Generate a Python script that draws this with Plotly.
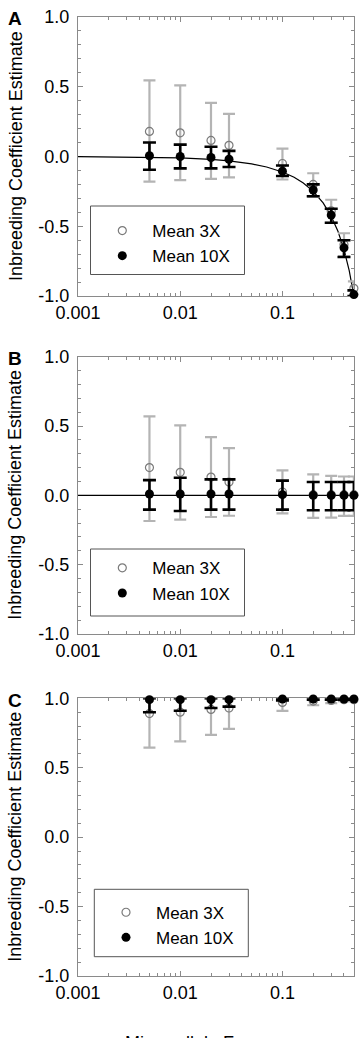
import math
import plotly.graph_objects as go
from plotly.subplots import make_subplots

# ---------------- data ----------------
maf = [0.005, 0.01, 0.02, 0.03, 0.1, 0.2, 0.3, 0.4, 0.5]

# Panel A
a3_mean = [0.18, 0.17, 0.115, 0.08, -0.05, -0.20, -0.39, -0.63, -0.945]
a3_hi = [0.545, 0.51, 0.385, 0.305, 0.057, -0.12, -0.31, -0.55, -0.895]
a3_lo = [-0.18, -0.17, -0.16, -0.15, -0.165, -0.29, -0.475, -0.715, -1.0]
a10_mean = [0.005, 0.0, -0.007, -0.02, -0.105, -0.24, -0.42, -0.655, -0.99]
a10_hi = [0.10, 0.085, 0.07, 0.04, -0.065, -0.20, -0.375, -0.60, -0.96]
a10_lo = [-0.095, -0.085, -0.085, -0.075, -0.14, -0.285, -0.475, -0.72, -1.0]
curve_x = [0.001, 0.005, 0.01, 0.02, 0.03, 0.05, 0.07, 0.1, 0.13, 0.16, 0.2,
           0.25, 0.3, 0.35, 0.4, 0.45, 0.5]
curve_y = [-0.001, -0.005, -0.01, -0.02, -0.031, -0.053, -0.075, -0.111, -0.149,
           -0.19, -0.25, -0.333, -0.429, -0.538, -0.667, -0.818, -1.0]

# Panel B
b3_mean = [0.20, 0.166, 0.132, 0.096, 0.024, 0.005, 0.005, 0.005, 0.005]
b3_hi = [0.57, 0.505, 0.42, 0.34, 0.18, 0.151, 0.141, 0.136, 0.136]
b3_lo = [-0.185, -0.175, -0.156, -0.147, -0.13, -0.163, -0.16, -0.148, -0.148]
b10_mean = [0.01, 0.01, 0.01, 0.01, 0.005, 0.0, 0.0, 0.0, 0.0]
b10_hi = [0.11, 0.127, 0.115, 0.115, 0.106, 0.096, 0.096, 0.096, 0.096]
b10_lo = [-0.103, -0.113, -0.103, -0.103, -0.103, -0.108, -0.108, -0.108, -0.108]
lineb_x = [0.001, 0.5]
lineb_y = [0.0, 0.0]

# Panel C
c3_mean = [0.89, 0.90, 0.92, 0.93, 0.97, 0.98, 0.985, 0.99, 0.99]
c3_hi = [1.0, 1.0, 1.0, 1.0, 1.0, 1.0, 1.0, 1.0, 1.0]
c3_lo = [0.645, 0.69, 0.737, 0.78, 0.91, 0.95, 0.965, 0.98, 0.98]
c10_mean = [0.99, 0.99, 0.99, 0.99, 0.995, 0.995, 0.995, 0.995, 0.995]
c10_hi = [1.0, 1.0, 1.0, 1.0, 1.0, 1.0, 1.0, 1.0, 1.0]
c10_lo = [0.90, 0.91, 0.93, 0.94, 0.985, 0.99, 0.99, 0.99, 0.99]

x_tickvals = [0.001, 0.01, 0.1]
x_ticktext = ["0.001", "0.01", "0.1"]
y_tickvals = [-1.0, -0.5, 0.0, 0.5, 1.0]
y_ticktext = ["-1.0", "-0.5", "0.0", "0.5", "1.0"]
panel_labels = ["A", "B", "C"]
series_names = ["Mean 3X", "Mean 10X"]
y_title = "Inbreeding Coefficient Estimate"
x_title = "Minor-allele Frequency"

# ---------------- layout helpers ----------------
W, H = 362, 1038
ML, MR, MT, MB = 78, 8, 17, 62
PW, PH = W - ML - MR, H - MT - MB


def px_x(px):
    return (px - ML) / PW


def px_y(py):
    return 1 - (py - MT) / PH


panels_px = [(17, 296), (356.7, 634), (698.3, 976)]
legend_px = [(90.5, 206, 244.5, 274.5), (90.5, 549, 244.5, 616), (94.3, 889.3, 248.3, 956.7)]
legend_item_px = [(122.3, 231), (122.3, 568.3), (126.0, 912.7)]

FONT = "Liberation Sans, Arial, Helvetica, sans-serif"
GRAY_BAR = "#b4b4b4"
GRAY_EDGE = "#7a7a7a"
AX = "#8a8a8a"

fig = make_subplots(rows=3, cols=1)

data = [
    (a3_mean, a3_hi, a3_lo, a10_mean, a10_hi, a10_lo, curve_x, curve_y),
    (b3_mean, b3_hi, b3_lo, b10_mean, b10_hi, b10_lo, lineb_x, lineb_y),
    (c3_mean, c3_hi, c3_lo, c10_mean, c10_hi, c10_lo, None, None),
]

minor_x = [k * 10.0 ** e for e in (-3, -2, -1) for k in range(2, 10) if k * 10.0 ** e <= 0.5]
x_range = [-3, math.log10(0.5) + 0.001]

for i, (m3, h3, l3, m10, h10, l10, lx, ly) in enumerate(data):
    row = i + 1
    leg = "legend" if i == 0 else f"legend{i + 1}"
    if lx is not None:
        fig.add_trace(go.Scatter(x=lx, y=ly, mode="lines", line=dict(color="black", width=1.2),
                                 showlegend=False, hoverinfo="skip"), row=row, col=1)
    fig.add_trace(go.Scatter(
        x=maf, y=m3, mode="markers", name=series_names[0], legend=leg, cliponaxis=False,
        marker=dict(symbol="circle-open", size=8, color=GRAY_EDGE, line=dict(width=1.2, color=GRAY_EDGE)),
        error_y=dict(type="data", symmetric=False,
                     array=[h - m for h, m in zip(h3, m3)],
                     arrayminus=[m - l for m, l in zip(m3, l3)],
                     color=GRAY_BAR, thickness=2.2, width=6),
    ), row=row, col=1)
    fig.add_trace(go.Scatter(
        x=maf, y=m10, mode="markers", name=series_names[1], legend=leg, cliponaxis=False,
        marker=dict(symbol="circle", size=9, color="black"),
        error_y=dict(type="data", symmetric=False,
                     array=[h - m for h, m in zip(h10, m10)],
                     arrayminus=[m - l for m, l in zip(m10, l10)],
                     color="black", thickness=2.6, width=6.5),
    ), row=row, col=1)

    top, bot = panels_px[i]
    ax_common = dict(showline=True, linecolor=AX, linewidth=1, mirror="ticks",
                     ticks="inside", tickcolor=AX, ticklen=5, showgrid=False,
                     zeroline=False, layer="below traces",
                     tickfont=dict(family=FONT, size=18, color="black"))
    fig.update_xaxes(type="log", range=x_range, tickvals=x_tickvals, ticktext=x_ticktext,
                     minor=dict(tickvals=minor_x, ticks="inside", ticklen=3, tickcolor=AX),
                     domain=[0, 1], row=row, col=1, **ax_common)
    fig.update_yaxes(range=[-1, 1], tickvals=y_tickvals, ticktext=y_ticktext,
                     minor=dict(dtick=0.1, tick0=0, ticks="inside", ticklen=3, tickcolor=AX),
                     domain=[px_y(bot), px_y(top)], ticklabelstandoff=4,
                     row=row, col=1, **ax_common)

    # panel label
    fig.add_annotation(text=f"<b>{panel_labels[i]}</b>", xref="paper", yref="paper",
                       x=px_x(14.5), y=px_y(top + 2), xanchor="center", yanchor="middle",
                       showarrow=False, font=dict(family=FONT, size=19, color="black"))
    # y title
    fig.add_annotation(text=y_title, xref="paper", yref="paper", textangle=-90,
                       x=px_x(15.5), y=px_y((top + bot) / 2), xanchor="center", yanchor="middle",
                       showarrow=False, font=dict(family=FONT, size=18, color="black"))
    # legend box
    x0, y0, x1, y1 = legend_px[i]
    fig.add_shape(type="rect", xref="paper", yref="paper",
                  x0=px_x(x0), x1=px_x(x1), y0=px_y(y1), y1=px_y(y0),
                  line=dict(color="#555555", width=1), fillcolor="rgba(0,0,0,0)", layer="above")
    sx, sy = legend_item_px[i]
    legend_cfg = dict(x=px_x(sx - 30), y=px_y(sy - 18), xanchor="left", yanchor="top",
                      bgcolor="rgba(0,0,0,0)", borderwidth=0,
                      font=dict(family=FONT, size=17, color="black"),
                      tracegroupgap=0, itemwidth=50)
    fig.update_layout(**{leg: legend_cfg})

fig.add_annotation(text=x_title, xref="paper", yref="paper", x=px_x(216), y=px_y(1031),
                   xanchor="center", yanchor="top", showarrow=False,
                   font=dict(family=FONT, size=18, color="black"))

fig.update_layout(width=W, height=H, margin=dict(l=ML, r=MR, t=MT, b=MB),
                  plot_bgcolor="white", paper_bgcolor="white", showlegend=True)

fig.write_html("out.html")
